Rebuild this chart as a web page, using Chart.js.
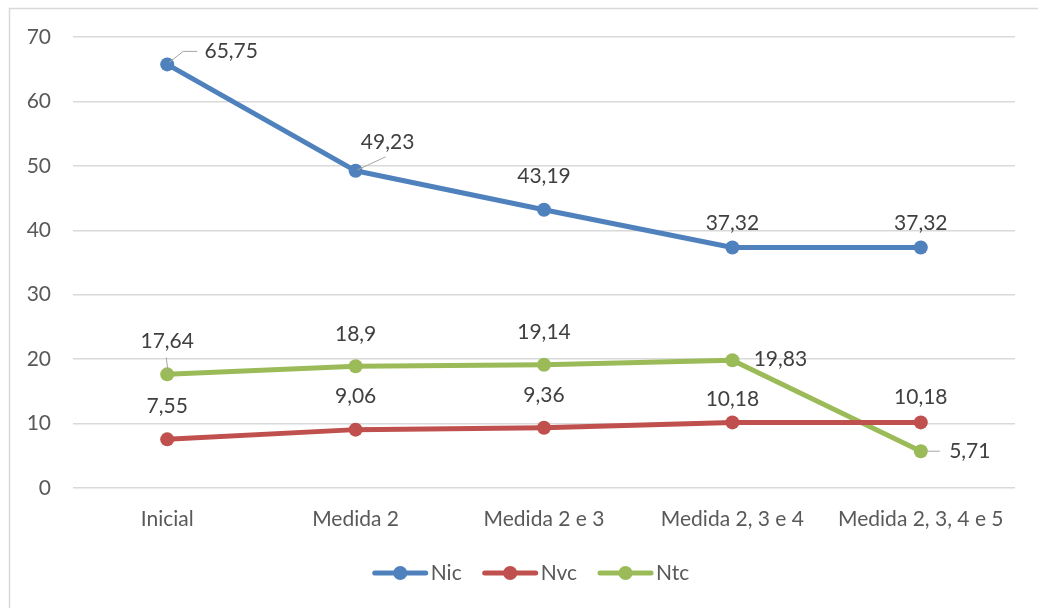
<!DOCTYPE html>
<html>
<head>
<meta charset="utf-8">
<script src="https://cdn.jsdelivr.net/npm/chart.js@4/dist/chart.umd.min.js"></script>
<style>
  html, body { margin: 0; padding: 0; background: #ffffff; }
  #wrap { position: relative; width: 1038px; height: 608px; }
</style>
</head>
<body>
<div id="wrap"><canvas id="c" width="1038" height="608"></canvas></div>
<script>
// ---- data ----
const categories = ["Inicial", "Medida 2", "Medida 2 e 3", "Medida 2, 3 e 4", "Medida 2, 3, 4 e 5"];
const nicValues = [65.75, 49.23, 43.19, 37.32, 37.32];
const nvcValues = [7.55, 9.06, 9.36, 10.18, 10.18];
const ntcValues = [17.64, 18.9, 19.14, 19.83, 5.71];
const seriesNames = ["Nic", "Nvc", "Ntc"];
const yMin = 0, yMax = 70, yStep = 10;

// ---- styling (label placement relative to each point) ----
const FONT = "Lato, 'Liberation Sans', sans-serif";
const FSIZE = 21;
const colors = ["#4f81bd", "#c0504d", "#9bbb59"];
const labelPlacement = [
  [ {dx: 64, dy: -13, leader: [[2,-2],[16,-13],[30,-13]]},
    {dx: 32, dy: -29, leader: [[2,-1],[30,-14]]},
    {dx: 0, dy: -33}, {dx: 0, dy: -24}, {dx: 0, dy: -24} ],
  [ {dx: 0, dy: -33}, {dx: 0, dy: -33}, {dx: 0, dy: -32}, {dx: 0, dy: -23}, {dx: 0, dy: -25} ],
  [ {dx: 0, dy: -33, leader: [[1,-2],[-1,-17]]},
    {dx: 0, dy: -32}, {dx: 0, dy: -32}, {dx: 48, dy: -1},
    {dx: 49, dy: 0, leader: [[5,0],[19,0]]} ]
];

function fmt(v) { return String(v).replace('.', ','); }

const dataLabelPlugin = {
  id: 'dataLabels',
  afterDatasetsDraw(chart) {
    const ctx = chart.ctx;
    ctx.save();
    chart.data.datasets.forEach((ds, di) => {
      const meta = chart.getDatasetMeta(di);
      meta.data.forEach((pt, i) => {
        const pl = labelPlacement[di][i];
        if (pl.leader) {
          ctx.strokeStyle = "#a6a6a6";
          ctx.lineWidth = 1;
          ctx.beginPath();
          pl.leader.forEach((p, k) => {
            const x = pt.x + p[0], y = pt.y + p[1];
            if (k === 0) ctx.moveTo(x, y); else ctx.lineTo(x, y);
          });
          ctx.stroke();
        }
        ctx.fillStyle = "#404040";
        ctx.font = FSIZE + "px " + FONT;
        ctx.textAlign = "center";
        ctx.textBaseline = "middle";
        ctx.fillText(fmt(ds.data[i]), pt.x + pl.dx, pt.y + pl.dy);
      });
    });
    ctx.restore();
  }
};

const frameAndLegendPlugin = {
  id: 'frameLegend',
  afterDraw(chart) {
    const ctx = chart.ctx;
    ctx.save();
    // outer frame (left and top edges visible)
    ctx.strokeStyle = "#d9d9d9";
    ctx.lineWidth = 1.5;
    ctx.beginPath();
    ctx.moveTo(9.5, 608);
    ctx.lineTo(9.5, 8.5);
    ctx.lineTo(1038, 8.5);
    ctx.stroke();
    // legend
    ctx.font = FSIZE + "px " + FONT;
    const symW = 55, gapText = 3, gapItem = 21;
    const items = chart.data.datasets.map((ds) => ({label: ds.label, color: ds.borderColor, w: ctx.measureText(ds.label).width}));
    let total = 0;
    items.forEach((it, k) => { total += symW + gapText + it.w + (k < items.length - 1 ? gapItem : 0); });
    let x = 531 - total / 2;
    const y = 573;
    items.forEach((it) => {
      ctx.strokeStyle = it.color;
      ctx.lineWidth = 5;
      ctx.lineCap = "round";
      ctx.beginPath();
      ctx.moveTo(x + 2, y);
      ctx.lineTo(x + symW - 2, y);
      ctx.stroke();
      ctx.fillStyle = it.color;
      ctx.beginPath();
      ctx.arc(x + symW / 2, y, 7, 0, Math.PI * 2);
      ctx.fill();
      ctx.fillStyle = "#595959";
      ctx.textAlign = "left";
      ctx.textBaseline = "middle";
      ctx.fillText(it.label, x + symW + gapText, y);
      x += symW + gapText + it.w + gapItem;
    });
    ctx.restore();
  }
};

const seriesValues = [nicValues, nvcValues, ntcValues];
const datasets = seriesValues.map((vals, k) => ({
  label: seriesNames[k],
  data: vals,
  borderColor: colors[k],
  backgroundColor: colors[k],
  borderWidth: 5,
  pointRadius: 7,
  pointHoverRadius: 7,
  pointBorderWidth: 0,
  tension: 0,
  borderCapStyle: 'round',
  borderJoinStyle: 'round'
}));

new Chart(document.getElementById('c'), {
  type: 'line',
  data: { labels: categories, datasets: datasets },
  options: {
    responsive: false,
    animation: false,
    events: [],
    layout: { padding: { left: 0, top: 37, right: 23, bottom: 0 } },
    plugins: { legend: { display: false }, tooltip: { enabled: false } },
    scales: {
      x: {
        offset: true,
        grid: { display: false, drawTicks: false },
        border: { display: false },
        ticks: { color: "#595959", font: { family: FONT, size: FSIZE }, padding: 19, maxRotation: 0, autoSkip: false },
        afterFit(scale) { scale.height = 120; }
      },
      y: {
        min: yMin, max: yMax,
        grid: { color: "#d9d9d9", lineWidth: 1.5, drawTicks: false },
        border: { display: false },
        ticks: { stepSize: yStep, color: "#595959", font: { family: FONT, size: FSIZE }, padding: 22 },
        afterFit(scale) { scale.width = 73; }
      }
    }
  },
  plugins: [dataLabelPlugin, frameAndLegendPlugin]
});
</script>
</body>
</html>
